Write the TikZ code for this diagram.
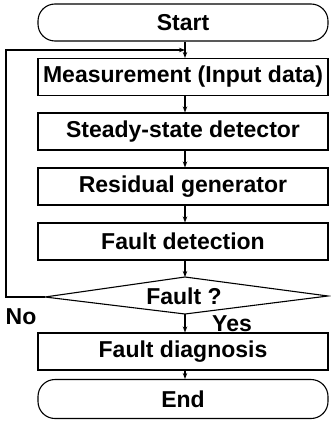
\documentclass[tikz,border=0pt]{standalone}
\usepackage{fontspec}
\setmainfont{Liberation Sans}
\usetikzlibrary{arrows.meta}
\begin{document}
\begin{tikzpicture}[x=1pt,y=-1pt,
  line width=1.1pt,
  every node/.style={font=\fontsize{23}{26}\selectfont\bfseries},
  procbox/.style={draw,minimum width=290pt,minimum height=37pt,inner sep=0pt},
  termbox/.style={draw,rounded corners=17pt,minimum width=290pt,minimum height=37pt,inner sep=0pt},
  arr/.style={-{Stealth[length=6pt,width=4.5pt]}},
  lbl/.style={inner sep=0pt}]
\useasboundingbox (0,0) rectangle (330,428);
\node[termbox] (start) at (183,22.5) {Start};
\node[procbox] (meas) at (183,77) {Measurement (Input data)};
\node[procbox] (steady) at (183,131.5) {Steady-state detector};
\node[procbox] (resid) at (183,186.5) {Residual generator};
\node[procbox] (detect) at (183,241.5) {Fault detection};
\coordinate (dtop) at (185,277);
\coordinate (dleft) at (45,297);
\coordinate (dright) at (328,296);
\coordinate (dbot) at (185,314);
\draw (dtop) -- (dright) -- (dbot) -- (dleft) -- cycle;
\node[lbl] (fault) at (184,296) {Fault ?};
\node[procbox] (diag) at (183,351.5) {Fault diagnosis};
\node[termbox,minimum height=39pt] (end) at (183,399) {End};
\coordinate (join) at (185,50);
\coordinate (lb) at (6,297);
\coordinate (lt) at (6,50);
\draw[arr] (start.south -| join) -- (meas.north -| join);
\draw[arr] (dleft) -- (lb) -- (lt) -- (join);
\draw[arr] (meas.south -| join) -- (steady.north -| join);
\draw[arr] (steady.south -| join) -- (resid.north -| join);
\draw[arr] (resid.south -| join) -- (detect.north -| join);
\draw[arr] (detect.south -| join) -- (dtop);
\draw[arr] (dbot) -- (diag.north -| dbot);
\draw[arr] (diag.south -| dbot) -- (end.north -| dbot);
\node[lbl] (no) at (21,317) {No};
\node[lbl] (yes) at (232,323.5) {Yes};
\end{tikzpicture}
\end{document}
